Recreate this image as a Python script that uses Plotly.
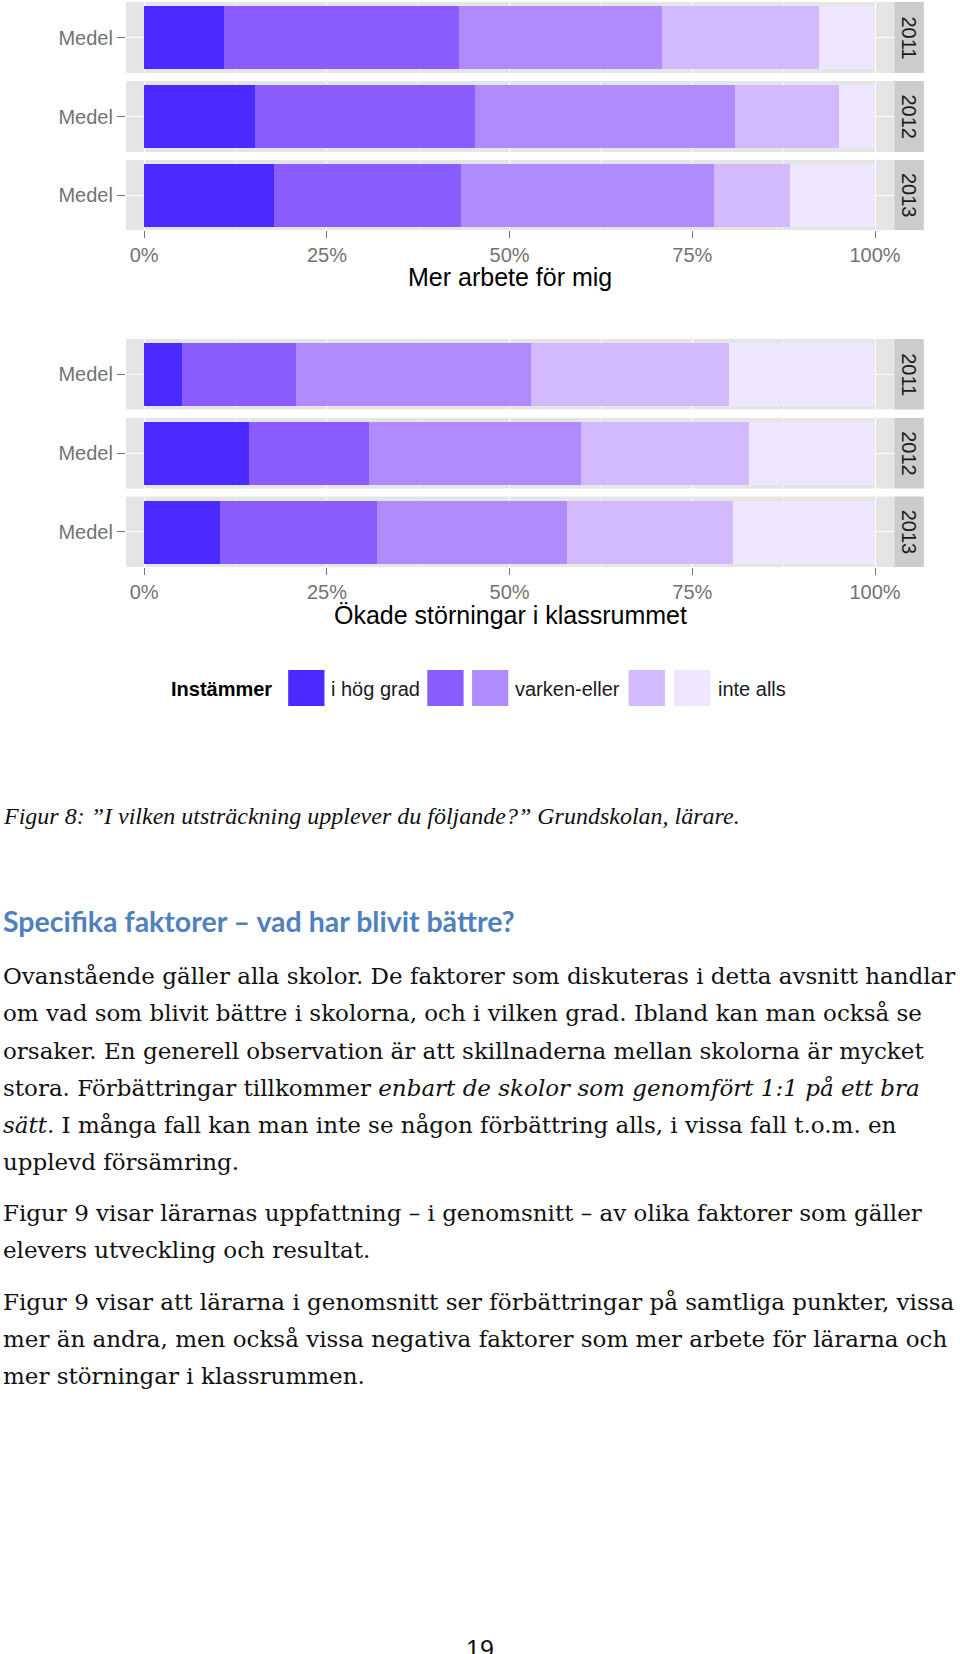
import plotly.graph_objects as go

W, H = 960, 1654

# svarsalternativ (1 = i hög grad ... 5 = inte alls)
levels = ["1", "2", "3", "4", "5"]
legend_labels = ["i hög grad", "", "varken-eller", "", "inte alls"]
colors = ["#4B2AFF", "#895DFF", "#B08BFE", "#D3B9FE", "#EFE6FF"]
years = ["2011", "2012", "2013"]
row_label = "Medel"

# andel (%) per år
mer_arbete_2011 = [10.9, 32.2, 27.7, 21.5, 7.7]
mer_arbete_2012 = [15.1, 30.1, 35.6, 14.3, 4.9]
mer_arbete_2013 = [17.8, 25.6, 34.5, 10.5, 11.6]
storningar_2011 = [5.2, 15.5, 32.2, 27.1, 20.0]
storningar_2012 = [14.3, 16.5, 28.9, 23.0, 17.3]
storningar_2013 = [10.4, 21.4, 26.0, 22.8, 19.4]

x_ticks = [0, 0.25, 0.5, 0.75, 1]
x_minor = [0.125, 0.375, 0.625, 0.875]

caption = "Figur 8: ”I vilken utsträckning upplever du följande?” Grundskolan, lärare."
heading = "Specifika faktorer – vad har blivit bättre?"
body_lines = [
    "Ovanstående gäller alla skolor. De faktorer som diskuteras i detta avsnitt handlar",
    "om vad som blivit bättre i skolorna, och i vilken grad. Ibland kan man också se",
    "orsaker. En generell observation är att skillnaderna mellan skolorna är mycket",
    "stora. Förbättringar tillkommer <i>enbart de skolor som genomfört 1:1 på ett bra</i>",
    "<i>sätt.</i> I många fall kan man inte se någon förbättring alls, i vissa fall t.o.m. en",
    "upplevd försämring.",
    "Figur 9 visar lärarnas uppfattning – i genomsnitt – av olika faktorer som gäller",
    "elevers utveckling och resultat.",
    "Figur 9 visar att lärarna i genomsnitt ser förbättringar på samtliga punkter, vissa",
    "mer än andra, men också vissa negativa faktorer som mer arbete för lärarna och",
    "mer störningar i klassrummen.",
]
body_y = [975.8, 1012.7, 1050.7, 1087.6, 1124.6, 1161.5, 1213.1, 1250.1, 1301.7, 1338.7, 1375.6]

groups = [
    ("Mer arbete för mig", [mer_arbete_2011, mer_arbete_2012, mer_arbete_2013]),
    ("Ökade störningar i klassrummet", [storningar_2011, storningar_2012, storningar_2013]),
]


def px(x):
    return x / W


def py(y):
    return 1 - y / H


def note(text, x, y, size, color="black", family="Liberation Sans", xanchor="center", **kw):
    return dict(text=text, xref="paper", yref="paper", x=px(x), y=py(y),
                xanchor=xanchor, yanchor="middle", showarrow=False,
                font=dict(family=family, size=size, color=color, **kw))


# panel layout in pixels
panel_left, panel_right = 126.7, 900
strip_right = 929.6
panel_rows = [[(2, 73), (81, 152), (160, 230)],
              [(339, 409.5), (418, 488.5), (496.5, 567)]]
title_y = [277.4, 614.5]

gray_txt = "#737373"
sans = "Liberation Sans"

fig = go.Figure()
layout = {}
shapes = []
annotations = []

n = 0
for g, (title, series) in enumerate(groups):
    for r, vals in enumerate(series):
        n += 1
        top, bot = panel_rows[g][r]
        xa, ya = "x%d" % n, "y%d" % n
        for k, v in enumerate(vals):
            fig.add_trace(go.Bar(
                x=[v / 100], y=[row_label], orientation="h", width=0.9,
                marker=dict(color=colors[k], line=dict(width=0)),
                name=levels[k], showlegend=False, xaxis=xa, yaxis=ya,
            ))
        bottom = r == len(series) - 1
        layout["xaxis%d" % n] = dict(
            domain=[px(panel_left), px(panel_right)], anchor=ya,
            range=[-0.025, 1.0264], tickvals=x_ticks, tickformat=".0%",
            showticklabels=bottom, ticks="outside" if bottom else "",
            ticklen=7, tickwidth=1.3, tickcolor=gray_txt,
            tickfont=dict(family=sans, size=20, color=gray_txt),
            showgrid=True, gridcolor="white", gridwidth=1.3, zeroline=False,
            minor=dict(tickvals=x_minor, showgrid=True, gridcolor="#F2F2F2", gridwidth=0.6),
            showline=False, fixedrange=True,
        )
        layout["yaxis%d" % n] = dict(
            domain=[py(bot), py(top)], anchor=xa, range=[-0.5, 0.5],
            type="category", ticks="outside", ticklen=8, tickwidth=1.3,
            tickcolor=gray_txt, tickfont=dict(family=sans, size=20, color=gray_txt),
            showgrid=True, gridcolor="white", gridwidth=1.3, zeroline=False,
            showline=False, fixedrange=True,
        )
        # facet strip
        shapes.append(dict(type="rect", xref="paper", yref="paper",
                           x0=px(panel_right), x1=px(strip_right), y0=py(bot), y1=py(top),
                           fillcolor="#CCCCCC", line=dict(width=0), layer="below"))
        a = note(years[r], (panel_right + strip_right) / 2, (top + bot) / 2, 20, "#1A1A1A")
        a["textangle"] = 90
        annotations.append(a)
    annotations.append(note(title, (panel_left + panel_right) / 2, title_y[g], 25))

# legend (drawn by hand to mimic ggplot's key layout)
key_x = [290, 430, 475, 632.6, 678.5]
key_w = 36.5
key_top, key_bot = 670, 706
legend_y = 689
annotations.append(note("Instämmer", 170, legend_y, 20, xanchor="left", weight="bold"))
for k, x0 in enumerate(key_x):
    shapes.append(dict(type="rect", xref="paper", yref="paper",
                       x0=px(x0), x1=px(x0 + key_w), y0=py(key_bot), y1=py(key_top),
                       fillcolor=colors[k], line=dict(width=0)))
    if legend_labels[k]:
        annotations.append(note(legend_labels[k], x0 + key_w + 5, legend_y, 20, "#1A1A1A",
                                xanchor="left"))

# page text
annotations.append(note(caption, 1, 816, 24, "#111111", "Liberation Serif",
                        xanchor="left", style="italic"))
annotations.append(note(heading, 1, 921, 28.5, "#4F81BD", "Lato", xanchor="left", weight="bold"))
for line, y in zip(body_lines, body_y):
    annotations.append(note(line, 1, y, 23, "#111111", "DejaVu Serif", xanchor="left"))
annotations.append(note("19", 483, 1649, 25, "#111111"))

fig.update_layout(
    width=W, height=H, margin=dict(l=0, r=0, t=0, b=0),
    paper_bgcolor="white", plot_bgcolor="#E5E5E5",
    barmode="stack", bargap=0, showlegend=False,
    shapes=shapes, annotations=annotations, **layout,
)

fig.write_html("out.html", config={"displayModeBar": False},
               post_script="document.body.style.margin='0';")
